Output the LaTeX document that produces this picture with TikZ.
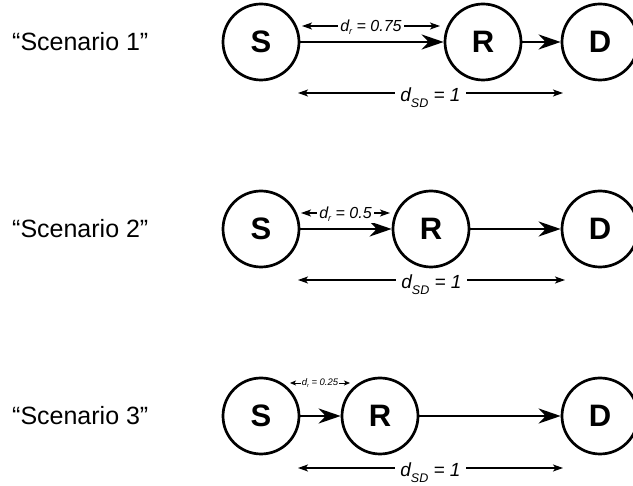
\documentclass[tikz,border=0pt]{standalone}
\usepackage{fontspec}
\setmainfont{Liberation Sans}
\usetikzlibrary{arrows.meta}

% distance labels: italic d with a lowered subscript
\newcommand{\distlabel}[4]{\textit{d\raisebox{-#3}{\fontsize{#2}{#2}\selectfont #1} = #4}}

\begin{document}
\begin{tikzpicture}[x=1pt,y=-1pt,
  station/.style={circle, draw, line width=2.7pt, minimum size=76pt, inner sep=0pt,
    font=\fontsize{31}{31}\selectfont\bfseries},
  link/.style={line width=2.7pt, -{Stealth[length=22pt,width=15pt,inset=7pt]}},
  span/.style={line width=1.2pt,
    {Stealth[length=10pt,width=7pt,inset=2.5pt]}-{Stealth[length=10pt,width=7pt,inset=2.5pt]}},
  smallspan/.style={line width=0.8pt,
    {Stealth[length=6pt,width=5pt,inset=1.5pt]}-{Stealth[length=6pt,width=5pt,inset=1.5pt]}},
  gap/.style={fill=white, anchor=base, inner ysep=1pt},
  biglabel/.style={gap, inner xsep=5pt, yshift=-9pt, font=\fontsize{19}{19}\selectfont},
  midlabel/.style={gap, inner xsep=2.5pt, yshift=-5.3pt, font=\fontsize{16}{16}\selectfont},
  tinylabel/.style={gap, inner xsep=1pt, yshift=-3pt, font=\fontsize{9.5}{9.5}\selectfont},
  scen/.style={anchor=west, inner sep=0pt, font=\fontsize{25}{25}\selectfont}]
\useasboundingbox (0,0) rectangle (633,486);
\clip (0,0) rectangle (633,486);

% Scenario 1
\node[scen] (L1) at (12,42) {“Scenario 1”};
\node[station] (S1) at (261,42) {S};
\node[station] (R1) at (483,42) {R};
\node[station] (D1) at (600,42) {D};
\draw[link] (S1) -- (R1);
\draw[link] (R1) -- (D1);
\coordinate (a1) at (302,26);
\coordinate (b1) at (440,26);
\draw[span] (a1) -- (b1) node[midway, midlabel] {\distlabel{r}{9}{3.5pt}{0.75}};
\coordinate (c1) at (298,93);
\coordinate (e1) at (563,93);
\draw[span] (c1) -- (e1) node[midway, biglabel] {\distlabel{SD}{12.5}{6pt}{1}};

% Scenario 2
\node[scen] (L2) at (12,229) {“Scenario 2”};
\node[station] (S2) at (261,229) {S};
\node[station] (R2) at (431,229) {R};
\node[station] (D2) at (600,229) {D};
\draw[link] (S2) -- (R2);
\draw[link] (R2) -- (D2);
\coordinate (a2) at (301,213);
\coordinate (b2) at (390,213);
\draw[span] (a2) -- (b2) node[midway, midlabel] {\distlabel{r}{9}{3.5pt}{0.5}};
\coordinate (c2) at (298,280);
\coordinate (e2) at (565,280);
\draw[span] (c2) -- (e2) node[midway, biglabel] {\distlabel{SD}{12.5}{6pt}{1}};

% Scenario 3
\node[scen] (L3) at (12,416) {“Scenario 3”};
\node[station] (S3) at (261,416) {S};
\node[station] (R3) at (380,416) {R};
\node[station] (D3) at (600,416) {D};
\draw[link] (S3) -- (R3);
\draw[link] (R3) -- (D3);
\coordinate (a3) at (290,383);
\coordinate (b3) at (350,383);
\draw[smallspan] (a3) -- (b3) node[midway, tinylabel] {\distlabel{r}{5.5}{2pt}{0.25}};
\coordinate (c3) at (298,468);
\coordinate (e3) at (563,468);
\draw[span] (c3) -- (e3) node[midway, biglabel] {\distlabel{SD}{12.5}{6pt}{1}};
\end{tikzpicture}
\end{document}
